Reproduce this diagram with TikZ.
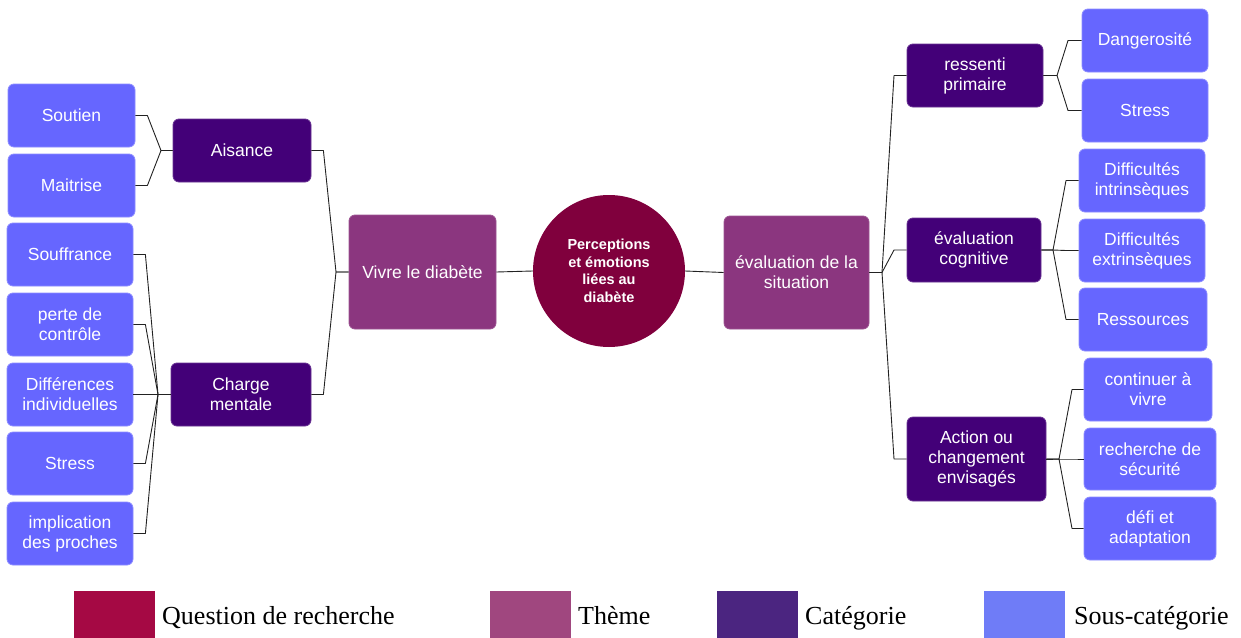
\documentclass[tikz,border=0pt]{standalone}
\usepackage{fontspec}
\setmainfont{Liberation Serif}
\newfontfamily\nodefont{Liberation Sans}
\definecolor{subc}{HTML}{6666FF}
\definecolor{catc}{HTML}{430078}
\definecolor{themc}{HTML}{8B367F}
\definecolor{qc}{HTML}{80003D}
\definecolor{lq}{HTML}{A50944}
\definecolor{lt}{HTML}{A0477F}
\definecolor{lc}{HTML}{4B2580}
\definecolor{ls}{HTML}{6F7CF7}
\definecolor{linec}{HTML}{222222}
\tikzset{
  box/.style={rectangle, rounded corners=6pt, inner sep=0pt, align=center, text=white,
     font=\nodefont\fontsize{17.5}{20}\selectfont, line width=0.8pt},
  subbox/.style={box, fill=subc, draw=subc!75!white},
  catbox/.style={box, fill=catc, draw=catc!80!white},
  thembox/.style={box, fill=themc, draw=themc!85!white},
  qcircle/.style={circle, fill=qc, inner sep=0pt, minimum size=152pt, align=center, text=white,
     font=\nodefont\bfseries\fontsize{14.5}{17.5}\selectfont},
  conn/.style={draw=linec, line width=0.9pt, line join=round},
  legsq/.style={rectangle, inner sep=0pt, minimum width=81pt, minimum height=47pt},
  legtext/.style={anchor=base west, inner sep=0pt, font=\fontsize{26}{28}\selectfont, text=black}
}
\begin{document}
\begin{tikzpicture}[x=1pt,y=-1pt]
\useasboundingbox (0,0) rectangle (1241,637);
% left sub-categories
\node[subbox, minimum width=127pt, minimum height=63pt] (soutien) at (71.5,115.5) {Soutien};
\node[subbox, minimum width=127pt, minimum height=63pt] (maitrise) at (71.5,185.5) {Maitrise};
\node[subbox, minimum width=126pt, minimum height=63pt] (souffrance) at (70,254.5) {Souffrance};
\node[subbox, minimum width=126pt, minimum height=63pt] (perte) at (70,324.5) {perte de\\contrôle};
\node[subbox, minimum width=126pt, minimum height=63pt] (diff) at (70,394.5) {Différences\\individuelles};
\node[subbox, minimum width=126pt, minimum height=63pt] (stressL) at (70,463.5) {Stress};
\node[subbox, minimum width=126pt, minimum height=63pt] (impl) at (70,533.5) {implication\\des proches};
% left categories
\node[catbox, minimum width=138pt, minimum height=63pt] (aisance) at (242,150.5) {Aisance};
\node[catbox, minimum width=140pt, minimum height=63pt] (charge) at (241,394.5) {Charge\\mentale};
% themes and question
\node[thembox, minimum width=147pt, minimum height=114pt] (vivre) at (422.5,272) {Vivre le diabète};
\node[qcircle] (question) at (609,271) {Perceptions\\et émotions\\liées au\\diabète};
\node[thembox, minimum width=145pt, minimum height=113pt] (evalsit) at (796.5,272.5) {évaluation de la\\situation};
% right categories
\node[catbox, minimum width=136pt, minimum height=63pt] (ressenti) at (975,75.5) {ressenti\\primaire};
\node[catbox, minimum width=134pt, minimum height=64pt] (cognitive) at (974,250) {évaluation\\cognitive};
\node[catbox, minimum width=139pt, minimum height=84pt] (action) at (976.5,459) {Action ou\\changement\\envisagés};
% right sub-categories
\node[subbox, minimum width=126pt, minimum height=63pt] (danger) at (1145,40.5) {Dangerosité};
\node[subbox, minimum width=126pt, minimum height=63pt] (stressR) at (1145,110.5) {Stress};
\node[subbox, minimum width=126pt, minimum height=63pt] (intr) at (1142,180.5) {Difficultés\\intrinsèques};
\node[subbox, minimum width=126pt, minimum height=63pt] (extr) at (1142,250.5) {Difficultés\\extrinsèques};
\node[subbox, minimum width=128pt, minimum height=63pt] (ress) at (1143,319.5) {Ressources};
\node[subbox, minimum width=128pt, minimum height=63pt] (cont) at (1148,389.5) {continuer à\\vivre};
\node[subbox, minimum width=132pt, minimum height=62pt] (secu) at (1150,459) {recherche de\\sécurité};
\node[subbox, minimum width=132pt, minimum height=63pt] (defi) at (1150,528.5) {défi et\\adaptation};
% branch points
\coordinate (bA) at (161,150.5);
\coordinate (bC) at (158,394.5);
\coordinate (bV) at (336,272);
\coordinate (bE) at (882,272.5);
\coordinate (bR) at (1057,75.5);
\coordinate (bG) at (1053,250);
\coordinate (bAc) at (1059,459);
% connectors left
\foreach \n in {soutien,maitrise}{\draw[conn] (\n.east) -- ++(12,0) -- (bA) -- (aisance.west);}
\foreach \n in {souffrance,perte,diff,stressL,impl}{\draw[conn] (\n.east) -- ++(12,0) -- (bC) -- (charge.west);}
\foreach \n in {aisance,charge}{\draw[conn] (\n.east) -- ++(12,0) -- (bV) -- (vivre.west);}
\draw[conn] (vivre.east) -- (question.west);
\draw[conn] (question.east) -- (evalsit.west);
% connectors right
\foreach \n in {ressenti,cognitive,action}{\draw[conn] (evalsit.east) -- (bE) -- (894,0 |- \n.west) -- (\n.west);}
\foreach \n in {danger,stressR}{\draw[conn] (ressenti.east) -- (bR) -- (1068,0 |- \n.west) -- (\n.west);}
\foreach \n in {intr,extr,ress}{\draw[conn] (cognitive.east) -- (bG) -- (1066,0 |- \n.west) -- (\n.west);}
\foreach \n in {cont,secu,defi}{\draw[conn] (action.east) -- (bAc) -- (1072,0 |- \n.west) -- (\n.west);}
% legend
\node[legsq, fill=lq] (lg1) at (114.5,614.5) {};
\node[legtext] (lt1) at (162,624) {Question de recherche};
\node[legsq, fill=lt] (lg2) at (530.5,614.5) {};
\node[legtext] (lt2) at (578,624) {Thème};
\node[legsq, fill=lc] (lg3) at (757,614.5) {};
\node[legtext] (lt3) at (805,624) {Catégorie};
\node[legsq, fill=ls] (lg4) at (1024.5,614.5) {};
\node[legtext] (lt4) at (1074,624) {Sous-catégorie};
\end{tikzpicture}
\end{document}
